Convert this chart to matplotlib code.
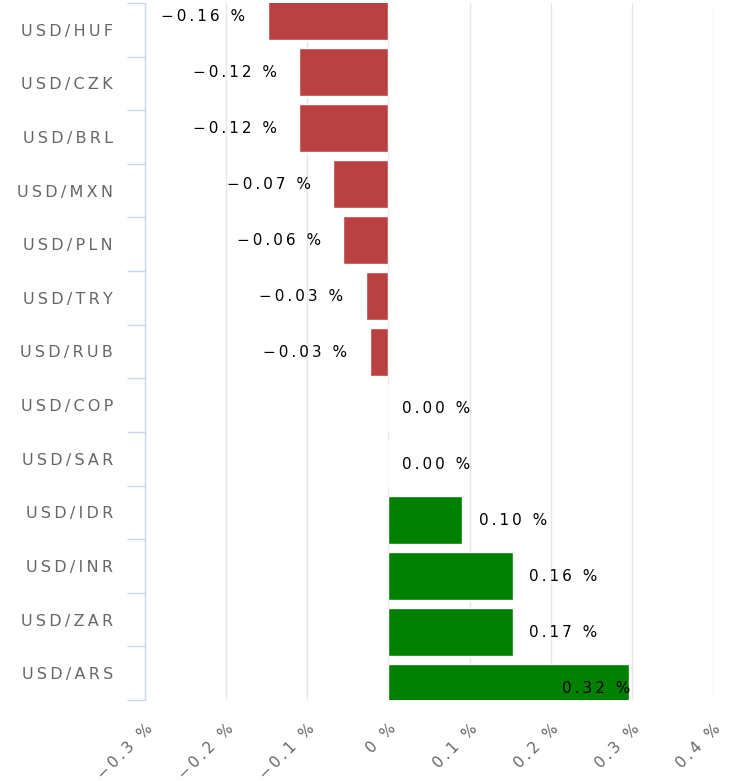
import matplotlib.pyplot as plt
import numpy as np

# Data
pairs = ['USD/HUF', 'USD/CZK', 'USD/BRL', 'USD/MXN', 'USD/PLN', 'USD/TRY', 'USD/RUB',
         'USD/COP', 'USD/SAR', 'USD/IDR', 'USD/INR', 'USD/ZAR', 'USD/ARS']
bar_values = [-0.149, -0.110, -0.110, -0.068, -0.056, -0.028, -0.023,
              0.0, 0.0, 0.091, 0.153, 0.153, 0.297]
value_labels = ['−0.16 %', '−0.12 %', '−0.12 %', '−0.07 %', '−0.06 %', '−0.03 %', '−0.03 %',
                '0.00 %', '0.00 %', '0.10 %', '0.16 %', '0.17 %', '0.32 %']
x_ticks = [-0.3, -0.2, -0.1, 0, 0.1, 0.2, 0.3, 0.4]
x_tick_labels = ['−0.3 %', '−0.2 %', '−0.1 %', '0 %', '0.1 %', '0.2 %', '0.3 %', '0.4 %']

RED = '#b94141'
GREEN = '#008000'
GRID = '#e6e6e6'
AXIS = '#ccd6eb'
LABEL = '#666666'


def spaced(s, sp='\u2009'):
    # mimic the letter spacing of the original labels
    return sp.join(s)


fig = plt.figure(figsize=(7.41, 7.81), dpi=100)
ax = fig.add_axes([145 / 741, 1 - 700 / 781, 568 / 741, 697 / 781])

n = len(pairs)
cat_pos = np.arange(n)
# bars in the original are laid out on a slightly larger pitch than the category bands
bar_pos = -0.2575 + 1.0445 * cat_pos
bar_h = 0.895

colors = [RED if v < 0 else GREEN for v in bar_values]
ax.barh(bar_pos, bar_values, height=bar_h, color=colors, edgecolor='white',
        linewidth=1, zorder=2)

xmin, xmax = -0.3, 0.4
for y, v, lab in zip(bar_pos, bar_values, value_labels):
    txt = spaced(lab)
    if v < 0:
        ax.annotate(txt, (v, y), xytext=(-16, 0), textcoords='offset points',
                    ha='right', va='center', fontsize=11, color='black', zorder=3)
    elif v + 0.11 > xmax:
        ax.annotate(txt, (v, y), xytext=(1, 0), textcoords='offset points',
                    ha='right', va='center', fontsize=11, color='black', zorder=3)
    else:
        ax.annotate(txt, (v, y), xytext=(10 if v == 0 else 12, 0), textcoords='offset points',
                    ha='left', va='center', fontsize=11, color='black', zorder=3)

ax.set_xlim(xmin, xmax)
ax.set_ylim(n - 0.5, -0.5)

# vertical grid
for x in x_ticks[1:]:
    ax.axvline(x, color=GRID, linewidth=1, zorder=1)

ax.set_xticks(x_ticks)
ax.set_xticklabels([spaced(t) for t in x_tick_labels], rotation=45, ha='right',
                   rotation_mode='anchor', color=LABEL, fontsize=11)
ax.tick_params(axis='x', length=0, pad=15)

ax.set_yticks(cat_pos)
ax.set_yticklabels([spaced(p) for p in pairs], color=LABEL, fontsize=11.5)
ax.set_yticks(np.arange(n + 1) - 0.5, minor=True)
ax.tick_params(axis='y', which='major', length=0, pad=23)
ax.tick_params(axis='y', which='minor', length=13, width=1, color=AXIS)

for side in ['top', 'right', 'bottom']:
    ax.spines[side].set_visible(False)
ax.spines['left'].set_color(AXIS)
ax.spines['left'].set_linewidth(1)

fig.savefig('out.png', dpi=100)
